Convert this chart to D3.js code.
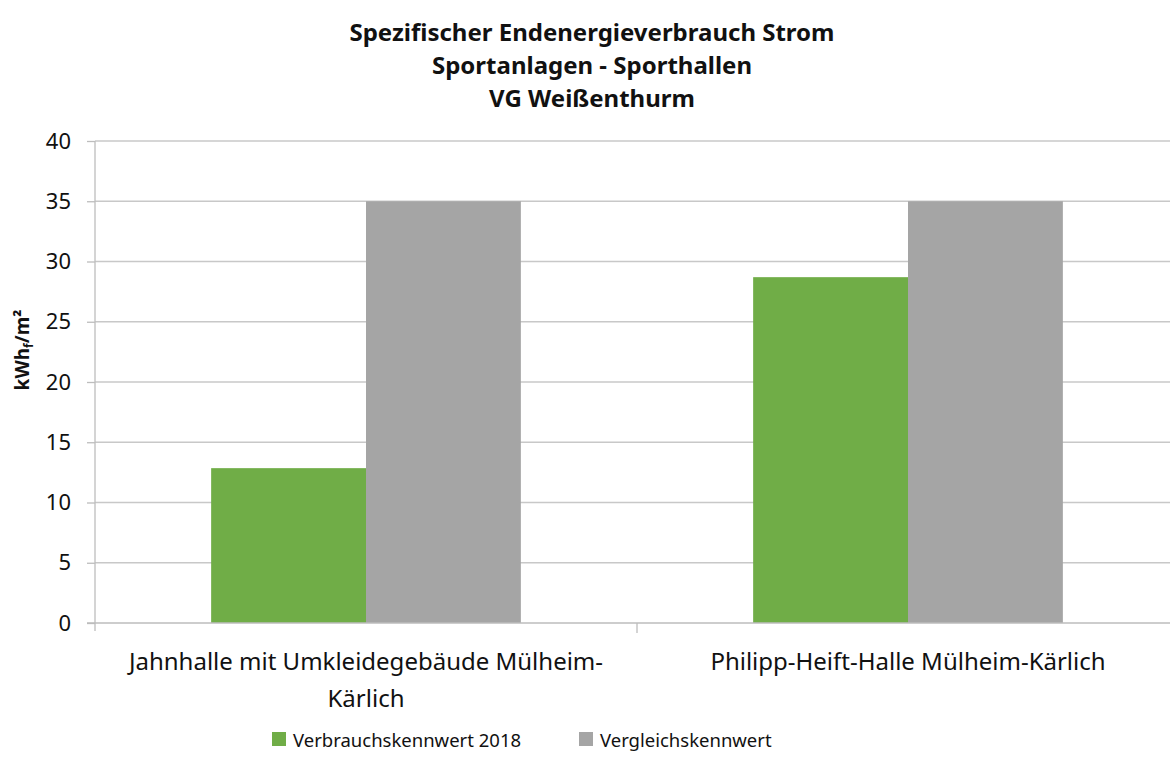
<!DOCTYPE html>
<html>
<head>
<meta charset="utf-8">
<script src="https://cdn.jsdelivr.net/npm/d3@7"></script>
<style>
  body { margin: 0; background: #fff; }
  svg { display: block; font-family: "Noto Sans", "Open Sans", sans-serif; }
</style>
</head>
<body>
<div id="app"></div>
<script>
'use strict'

const titleLines = ['Spezifischer Endenergieverbrauch Strom',
                    'Sportanlagen - Sporthallen',
                    'VG Weißenthurm'];
const categories = [['Jahnhalle mit Umkleidegebäude Mülheim-', 'Kärlich'],
                    ['Philipp-Heift-Halle Mülheim-Kärlich']];
const seriesNames = ['Verbrauchskennwert 2018', 'Vergleichskennwert'];
const seriesColors = ['#70ad47', '#a5a5a5'];
const verbrauch = [12.85, 28.7];
const vergleich = [35, 35];
const yTicks = [0, 5, 10, 15, 20, 25, 30, 35, 40];

const width = 1170;
const height = 758;
const plotLeft = 95, plotRight = 1179, plotTop = 141, plotBottom = 623;

const svg = d3.select('#app')
  .append('svg')
  .attr('width', width)
  .attr('height', height);

// Title
svg.append('text')
  .attr('text-anchor', 'middle')
  .attr('font-weight', 'bold')
  .attr('font-size', 24)
  .attr('fill', '#111')
  .selectAll('tspan')
  .data(titleLines)
  .enter()
    .append('tspan')
      .attr('x', 592)
      .attr('y', (d, i) => 41 + i * 33)
      .text((d) => d);

let x = d3.scaleBand()
  .domain(d3.range(categories.length))
  .range([plotLeft, plotRight]);

let inner = d3.scaleBand()
  .domain(d3.range(seriesNames.length))
  .range([0, x.bandwidth()])
  .paddingOuter(0.75);

let y = d3.scaleLinear()
  .domain([0, 40])
  .range([plotBottom, plotTop]);

// Gridlines
svg.append('g')
  .selectAll('line')
  .data(yTicks.slice(1))
  .enter()
    .append('line')
      .attr('x1', plotLeft)
      .attr('x2', width)
      .attr('y1', (d) => y(d))
      .attr('y2', (d) => y(d))
      .attr('stroke', '#c8c8c8')
      .attr('stroke-width', 1.3);

// Bars
let values = [verbrauch, vergleich];
values.forEach((series, s) => {
  svg.append('g')
    .selectAll('rect')
    .data(series)
    .enter()
      .append('rect')
        .attr('x', (d, i) => x(i) + inner(s))
        .attr('y', (d) => y(d))
        .attr('width', inner.bandwidth())
        .attr('height', (d) => y(0) - y(d))
        .attr('fill', seriesColors[s]);
});

// Y axis
let yAxis = svg.append('g')
  .attr('transform', `translate(${plotLeft},0)`)
  .call(d3.axisLeft(y).tickValues(yTicks).tickSize(8).tickPadding(16));
yAxis.select('.domain').attr('stroke', '#bdbdbd').attr('stroke-width', 1.3)
  .attr('d', `M-0,${plotTop}V${plotBottom + 8}`);
yAxis.selectAll('.tick line').attr('stroke', '#bdbdbd').attr('stroke-width', 1.3);
yAxis.selectAll('.tick text')
  .attr('font-size', 22)
  .attr('fill', '#111')
  .attr('font-family', '"Noto Sans", sans-serif');

// X axis line and category separators
svg.append('line')
  .attr('x1', plotLeft - 8)
  .attr('x2', width)
  .attr('y1', plotBottom)
  .attr('y2', plotBottom)
  .attr('stroke', '#bdbdbd')
  .attr('stroke-width', 1.3);
svg.append('g')
  .selectAll('line')
  .data(d3.range(1, categories.length))
  .enter()
    .append('line')
      .attr('x1', (d) => x(d))
      .attr('x2', (d) => x(d))
      .attr('y1', plotBottom)
      .attr('y2', plotBottom + 10)
      .attr('stroke', '#bdbdbd')
      .attr('stroke-width', 1.3);

// Category labels
svg.append('g')
  .selectAll('text')
  .data(categories)
  .enter()
    .append('text')
      .attr('text-anchor', 'middle')
      .attr('font-size', 24)
      .attr('fill', '#111')
      .each(function (d, i) {
        d3.select(this).selectAll('tspan')
          .data(d)
          .enter()
            .append('tspan')
              .attr('x', x(i) + x.bandwidth() / 2)
              .attr('y', (t, j) => 670 + j * 37)
              .text((t) => t);
      });

// Y axis title
svg.append('text')
  .attr('transform', 'translate(29,350) rotate(-90)')
  .attr('text-anchor', 'middle')
  .attr('font-weight', 'bold')
  .attr('font-size', 19)
  .attr('fill', '#111')
  .call((t) => {
    t.append('tspan').text('kWh');
    t.append('tspan').attr('font-size', 12).attr('dy', 4).text('f');
    t.append('tspan').attr('dy', -4).text('/m²');
  });

// Legend
let legendX = [293, 600];
let legend = svg.append('g')
  .selectAll('g')
  .data(seriesNames)
  .enter()
    .append('g')
      .attr('transform', (d, i) => `translate(${legendX[i]},747)`);
legend.append('rect')
  .attr('x', -21)
  .attr('y', -15)
  .attr('width', 14)
  .attr('height', 14)
  .attr('fill', (d, i) => seriesColors[i]);
legend.append('text')
  .attr('font-size', 18.5)
  .attr('fill', '#111')
  .text((d) => d);
</script>
</body>
</html>
